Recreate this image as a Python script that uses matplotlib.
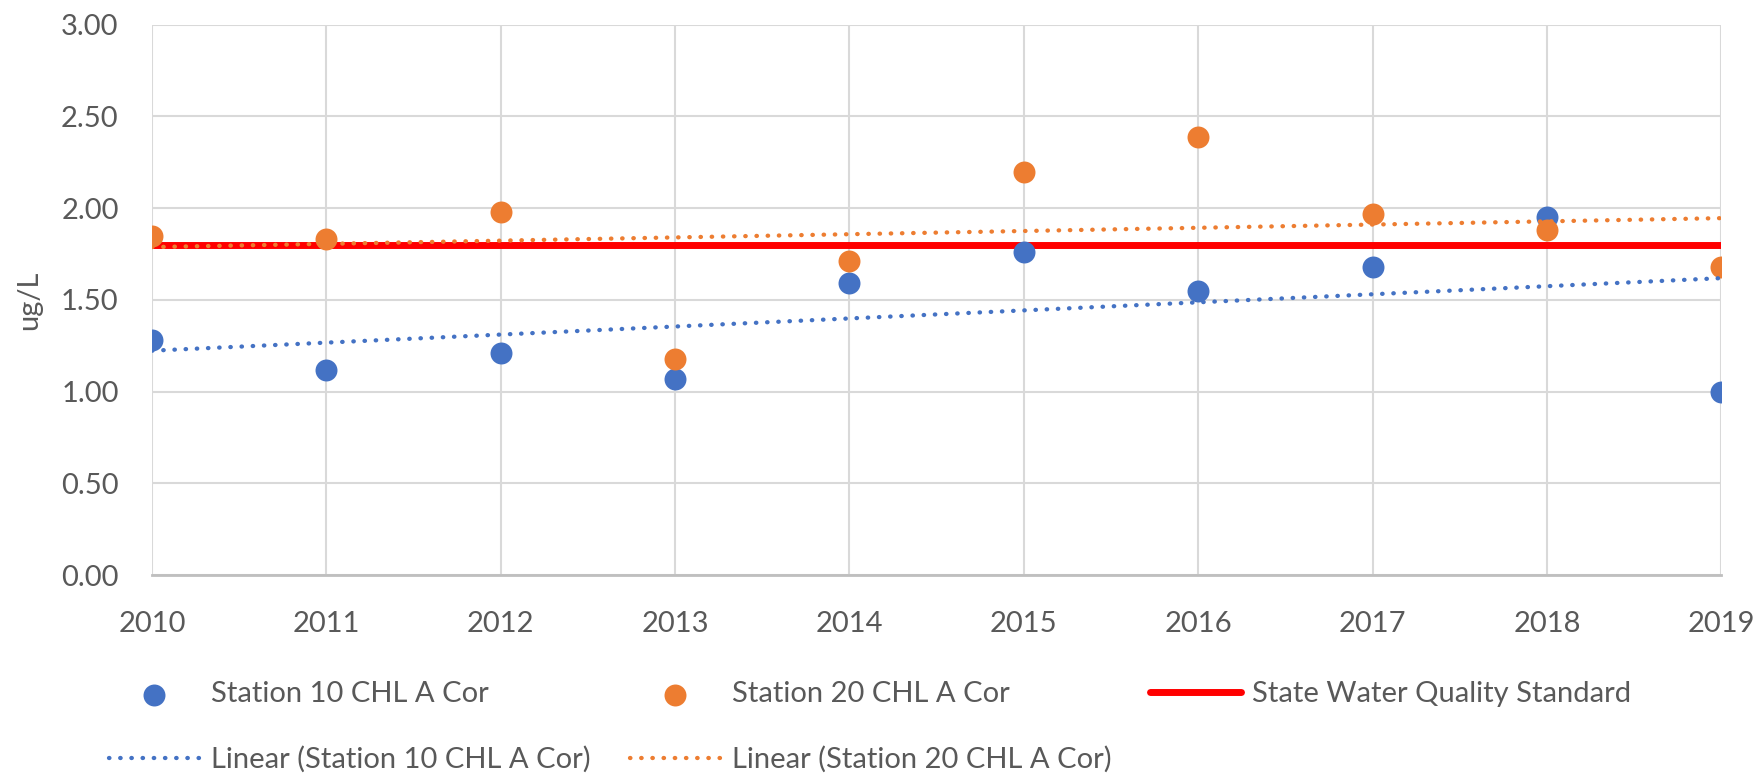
import numpy as np
import matplotlib.pyplot as plt

# chart data
years = [2010, 2011, 2012, 2013, 2014, 2015, 2016, 2017, 2018, 2019]
station10 = [1.28, 1.12, 1.21, 1.07, 1.59, 1.76, 1.55, 1.68, 1.95, 1.00]
station20 = [1.85, 1.83, 1.98, 1.18, 1.71, 2.20, 2.39, 1.97, 1.88, 1.68]
standard = [1.80, 1.80, 1.80, 1.80, 1.80, 1.80, 1.80, 1.80, 1.80, 1.80]
yticks = [0.0, 0.5, 1.0, 1.5, 2.0, 2.5, 3.0]

blue = "#4472c4"
orange = "#ed7d31"
red = "#ff0000"
grey = "#595959"

plt.rcParams["font.family"] = ["Lato", "DejaVu Sans"]

fig = plt.figure(figsize=(17.6, 7.74), dpi=100)
ax = fig.add_axes([0.0864, 0.257, 0.978 - 0.0864, 0.968 - 0.257])

# linear trendlines (least squares, like Excel)
x = np.array(years, dtype=float)
p10 = np.polyfit(x, station10, 1)
p20 = np.polyfit(x, station20, 1)

h_std, = ax.plot(years, standard, color=red, lw=5, solid_capstyle="round",
                 zorder=2, label="State Water Quality Standard")
h10 = ax.scatter(years, station10, s=250, color=blue, zorder=3,
                 label="Station 10 CHL A Cor", linewidths=0)
h20 = ax.scatter(years, station20, s=250, color=orange, zorder=4,
                 label="Station 20 CHL A Cor", linewidths=0)
dots = (0, (0.1, 2.5))
hl10, = ax.plot(x, np.polyval(p10, x), color=blue, lw=3.1, linestyle=dots,
                dash_capstyle="round", zorder=5,
                label="Linear (Station 10 CHL A Cor)")
hl20, = ax.plot(x, np.polyval(p20, x), color=orange, lw=3.1, linestyle=dots,
                dash_capstyle="round", zorder=5,
                label="Linear (Station 20 CHL A Cor)")

ax.set_xlim(2010, 2019)
ax.set_ylim(0, 3)
ax.set_xticks(years)
ax.set_yticks(yticks)
ax.set_yticklabels(["%.2f" % v for v in yticks])
ax.grid(True, color="#d9d9d9", lw=1.5, zorder=0)
ax.set_axisbelow(True)
for s in ["top", "right", "left"]:
    ax.spines[s].set_visible(False)
ax.spines["bottom"].set_color("#bfbfbf")
ax.spines["bottom"].set_linewidth(2)
ax.tick_params(length=0, labelsize=21, labelcolor=grey)
ax.tick_params(axis="x", pad=26)
ax.tick_params(axis="y", pad=24)
ax.set_ylabel("ug/L", fontsize=21, color=grey, labelpad=14)

handles = [h10, hl10, h20, hl20, h_std]
leg = ax.legend(handles, [h.get_label() for h in handles],
                ncol=3, loc="upper left", bbox_to_anchor=(-0.035, -0.172),
                frameon=False, fontsize=21, labelcolor=grey,
                handlelength=3.1, handletextpad=0.4, columnspacing=1.34,
                labelspacing=1.33, scatterpoints=1, borderaxespad=0)

fig.savefig("out.png", dpi=100)
